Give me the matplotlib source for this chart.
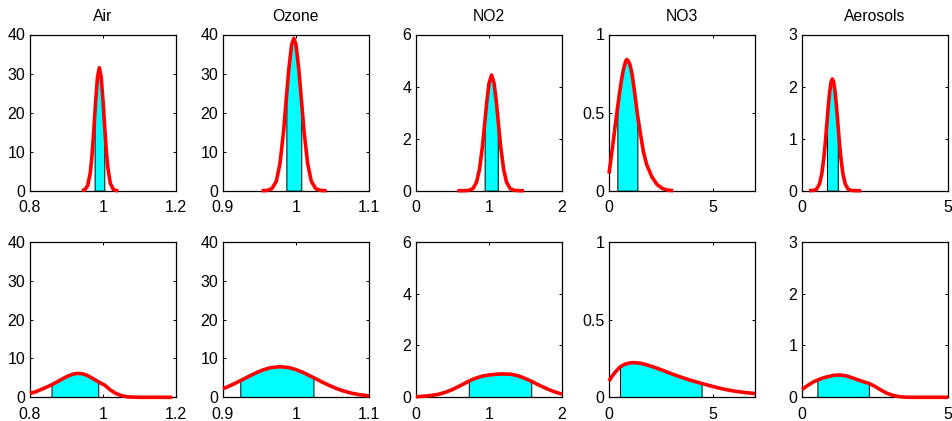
import matplotlib
matplotlib.use("Agg")
import matplotlib.pyplot as plt
import numpy as np

plt.rcParams['font.family'] = ['Liberation Sans', 'DejaVu Sans']

# Species shown in each column
species = ["Air", "Ozone", "NO2", "NO3", "Aerosols"]

# Axis limits and ticks per column
x_limits = [(0.8, 1.2), (0.9, 1.1), (0, 2), (0, 7), (0, 5)]
x_ticks = [[0.8, 1, 1.2], [0.9, 1, 1.1], [0, 1, 2], [0, 5], [0, 5]]
y_limits = [(0, 40), (0, 40), (0, 6), (0, 1), (0, 3)]
y_ticks = [[0, 10, 20, 30, 40], [0, 10, 20, 30, 40], [0, 2, 4, 6], [0, 0.5, 1], [0, 1, 2, 3]]

# ---- top row: narrow densities ----
air_top_x = [0.942, 0.950, 0.958, 0.965, 0.970, 0.975, 0.977, 0.980, 0.985, 0.990,
             0.995, 1.000, 1.0036, 1.008, 1.013, 1.020, 1.028, 1.035, 1.042]
air_top_y = [0.02, 0.22, 1.3, 4.5, 9.1, 15.7, 18.7, 23.1, 29.1, 31.5,
             29.1, 23.1, 17.8, 11.5, 6.1, 1.9, 0.36, 0.06, 0.0]
air_top_band = (0.977, 1.0036)

ozone_top_x = [0.953, 0.960, 0.967, 0.973, 0.978, 0.983, 0.9868, 0.990, 0.994, 0.997,
               1.000, 1.004, 1.0072, 1.011, 1.016, 1.021, 1.027, 1.034, 1.042]
ozone_top_y = [0.0, 0.05, 0.52, 2.4, 6.9, 15.2, 23.7, 30.8, 37.4, 39.0,
               37.4, 30.8, 23.7, 15.2, 6.9, 2.4, 0.52, 0.05, 0.0]
ozone_top_band = (0.9868, 1.0072)

no2_top_x = [0.567, 0.65, 0.72, 0.78, 0.83, 0.87, 0.91, 0.94, 0.97, 1.00, 1.035,
             1.07, 1.10, 1.12, 1.16, 1.20, 1.24, 1.29, 1.35, 1.42, 1.48]
no2_top_y = [0.0, 0.0, 0.01, 0.08, 0.33, 0.83, 1.69, 2.54, 3.42, 4.12, 4.44,
             4.12, 3.42, 2.84, 1.69, 0.83, 0.33, 0.08, 0.01, 0.0, 0.0]
no2_top_band = (0.94, 1.12)

no3_top_x = [0.0, 0.1, 0.2, 0.3, 0.4, 0.5, 0.6, 0.7, 0.8, 0.85, 0.9, 1.0, 1.1, 1.2,
             1.36, 1.5, 1.65, 1.8, 2.05, 2.3, 2.55, 2.8, 3.08]
no3_top_y = [0.11, 0.21, 0.31, 0.42, 0.52, 0.62, 0.71, 0.78, 0.83, 0.84, 0.835, 0.81,
             0.75, 0.66, 0.49, 0.37, 0.25, 0.17, 0.09, 0.04, 0.015, 0.004, 0.0]
no3_top_band = (0.4, 1.36)

aer_top_x = [0.24, 0.40, 0.50, 0.60, 0.68, 0.75, 0.80, 0.855, 0.90, 0.95, 1.00, 1.04,
             1.08, 1.13, 1.18, 1.225, 1.28, 1.33, 1.40, 1.48, 1.58, 1.68, 1.85, 2.03]
aer_top_y = [0.0, 0.006, 0.03, 0.13, 0.33, 0.64, 0.93, 1.31, 1.62, 1.91, 2.10, 2.145,
             2.10, 1.91, 1.62, 1.31, 0.93, 0.64, 0.33, 0.13, 0.03, 0.006, 0.0, 0.0]
aer_top_band = (0.855, 1.225)

# ---- bottom row: wide densities ----
air_bot_x = [0.800, 0.815, 0.830, 0.845, 0.859, 0.875, 0.890, 0.905, 0.918, 0.930,
             0.943, 0.955, 0.967, 0.978, 0.987, 0.995, 1.005, 1.020, 1.035, 1.050,
             1.065, 1.080, 1.100, 1.190]
air_bot_y = [1.0, 1.4, 2.0, 2.6, 3.2, 4.0, 4.8, 5.5, 5.95, 6.15,
             6.05, 5.7, 5.1, 4.5, 4.0, 3.6, 3.1, 1.9, 1.0, 0.45,
             0.15, 0.05, 0.0, 0.0]
air_bot_band = (0.859, 0.987)

ozone_bot_x = [0.900, 0.910, 0.9237, 0.935, 0.945, 0.955, 0.965, 0.978, 0.990, 1.000,
               1.010, 1.0239, 1.035, 1.045, 1.055, 1.065, 1.075, 1.085, 1.100]
ozone_bot_y = [2.21, 3.0, 4.26, 5.35, 6.27, 7.05, 7.6, 7.87, 7.64, 7.12,
               6.36, 5.07, 4.0, 3.09, 2.29, 1.63, 1.11, 0.73, 0.35]
ozone_bot_band = (0.9237, 1.0239)

no2_bot_x = [0.00, 0.15, 0.30, 0.40, 0.50, 0.60, 0.723, 0.80, 0.90, 1.00, 1.10,
             1.20, 1.30, 1.40, 1.50, 1.579, 1.70, 1.80, 1.90, 2.00]
no2_bot_y = [0.02, 0.05, 0.11, 0.19, 0.30, 0.44, 0.62, 0.72, 0.81, 0.86, 0.89,
             0.90, 0.89, 0.83, 0.72, 0.62, 0.45, 0.32, 0.21, 0.12]
no2_bot_band = (0.723, 1.579)

no3_bot_x = [0.00, 0.15, 0.30, 0.527, 0.75, 1.00, 1.20, 1.50, 1.80, 2.10, 2.40, 2.70,
             3.00, 3.40, 3.80, 4.20, 4.44, 4.80, 5.20, 5.60, 6.00, 6.50, 7.00]
no3_bot_y = [0.105, 0.135, 0.162, 0.195, 0.212, 0.221, 0.223, 0.219, 0.209, 0.196,
             0.182, 0.167, 0.151, 0.132, 0.114, 0.098, 0.089, 0.076, 0.062, 0.050,
             0.040, 0.031, 0.024]
no3_bot_band = (0.527, 4.44)

aer_bot_x = [0.00, 0.20, 0.40, 0.527, 0.70, 0.90, 1.10, 1.30, 1.50, 1.70, 1.90, 2.10,
             2.29, 2.50, 2.70, 2.90, 3.10, 3.30, 3.50, 3.70, 5.00]
aer_bot_y = [0.15, 0.23, 0.30, 0.33, 0.37, 0.40, 0.425, 0.43, 0.415, 0.38, 0.34, 0.30,
             0.27, 0.21, 0.14, 0.08, 0.04, 0.015, 0.004, 0.0, 0.0]
aer_bot_band = (0.527, 2.29)

top_row = [(air_top_x, air_top_y, air_top_band),
           (ozone_top_x, ozone_top_y, ozone_top_band),
           (no2_top_x, no2_top_y, no2_top_band),
           (no3_top_x, no3_top_y, no3_top_band),
           (aer_top_x, aer_top_y, aer_top_band)]
bottom_row = [(air_bot_x, air_bot_y, air_bot_band),
              (ozone_bot_x, ozone_bot_y, ozone_bot_band),
              (no2_bot_x, no2_bot_y, no2_bot_band),
              (no3_bot_x, no3_bot_y, no3_bot_band),
              (aer_bot_x, aer_bot_y, aer_bot_band)]

W, H = 953, 421
fig = plt.figure(figsize=(W / 100, H / 100), dpi=100)

col_left = [30, 223, 416, 609, 802]
ax_w = 146
rows = [(34.5, 190.7), (241.7, 397.3)]
FS = 11.5


def fmt(v):
    return ("%g" % v)


def draw_panel(ax, xs, ys, band, j):
    xs = np.asarray(xs)
    ys = np.asarray(ys)
    lo, hi = band
    mask = (xs >= lo - 1e-9) & (xs <= hi + 1e-9)
    ax.fill_between(xs, 0, ys, where=mask, facecolor=(0, 1, 1),
                    edgecolor='black', linewidth=0.7, zorder=2)
    ax.plot(xs, ys, color=(1, 0, 0), linewidth=2.6, zorder=5, clip_on=False,
            solid_capstyle='butt', solid_joinstyle='round')
    ax.set_xlim(*x_limits[j])
    ax.set_ylim(*y_limits[j])
    ax.set_xticks(x_ticks[j])
    ax.set_yticks(y_ticks[j])
    ax.set_xticklabels([fmt(v) for v in x_ticks[j]])
    ax.set_yticklabels([fmt(v) for v in y_ticks[j]])
    ax.tick_params(direction='in', length=2.5, width=0.7, top=True, right=True,
                   labelsize=FS, colors='black')
    ax.tick_params(axis='x', pad=7)
    ax.tick_params(axis='y', pad=3.5)
    for s in ax.spines.values():
        s.set_linewidth(0.9)
        s.set_zorder(3)


for r, (row_data, (ytop, ybot)) in enumerate(zip([top_row, bottom_row], rows)):
    for j, (xs, ys, band) in enumerate(row_data):
        ax = fig.add_axes([col_left[j] / W, 1 - ybot / H, ax_w / W, (ybot - ytop) / H])
        draw_panel(ax, xs, ys, band, j)
        if r == 0:
            ax.set_title(species[j], fontsize=11.3, pad=10)

fig.savefig("out.png", dpi=100)
